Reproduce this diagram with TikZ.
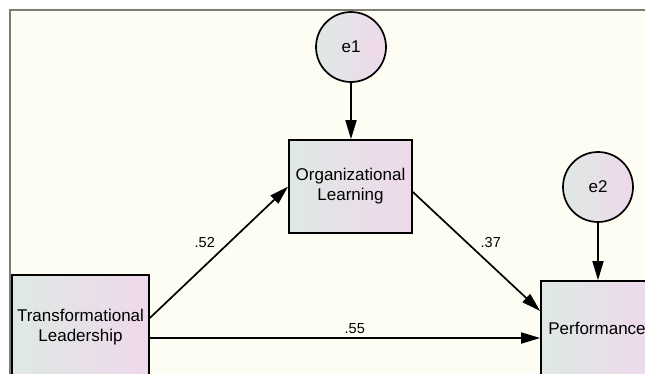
\documentclass[tikz,border=0pt]{standalone}
\usepackage{fontspec}
\setmainfont{Liberation Sans}
\usetikzlibrary{arrows.meta}
\definecolor{fond}{RGB}{253,253,243}
\definecolor{cadre}{RGB}{125,125,118}
\definecolor{vertgris}{RGB}{222,233,228}
\definecolor{rose}{RGB}{239,216,235}
\begin{document}
\begin{tikzpicture}[x=1pt,y=-1pt,>={Triangle[length=19pt,width=11pt]},
	boite/.style={draw=black, line width=1.7pt, left color=vertgris, right color=rose,
		minimum width=123pt, minimum height=93pt, inner sep=0pt, align=center,
		font=\fontsize{17}{20}\selectfont},
	erreur/.style={circle, draw=black, line width=1.7pt, left color=vertgris, right color=rose,
		minimum size=70pt, inner sep=0pt, font=\fontsize{17}{20}\selectfont},
	coef/.style={font=\fontsize{14.5}{17}\selectfont}]
	\useasboundingbox (0,0) rectangle (645,373);
	\clip (0,0) rectangle (645,373);

	% le fond et le cadre
	\fill[white] (0,0) rectangle (645,373);
	\fill[fond] (10,10) rectangle (650,380);
	\draw[cadre, line width=2pt] (10,380) -- (10,10) -- (650,10);

	% les variables
	\node[erreur] (e1) at (351,47) {e1};
	\node[boite] (OL) at (350.5,186.5) {Organizational\\Learning};
	\node[erreur] (e2) at (598,187) {e2};
	\node[boite, minimum width=137pt, minimum height=104pt] (TL) at (80.5,327) {Transformational\\Leadership};
	\node[boite, minimum width=112pt, minimum height=94pt] (P) at (597,328) {Performance};
	\coordinate (h) at ([yshift=-11pt]TL.east);

	% les fleches
	\draw[->, line width=1.7pt] (e1.south) -- (e1.south |- OL.north);
	\draw[->, line width=1.7pt] (e2.south) -- (e2.south |- P.north);
	\draw[->, line width=1.7pt] ([yshift=9pt]TL.east) -- node[coef, above left, pos=0.5] {.52} (OL.west);
	\draw[->, line width=1.7pt] ([yshift=-5.5pt]OL.east) -- node[coef, above right, pos=0.5] {.37} ([yshift=17pt]P.west);
	\draw[->, line width=1.7pt] (h) -- node[coef, above, pos=0.525] {.55} (h -| P.west);

\end{tikzpicture}
\end{document}
